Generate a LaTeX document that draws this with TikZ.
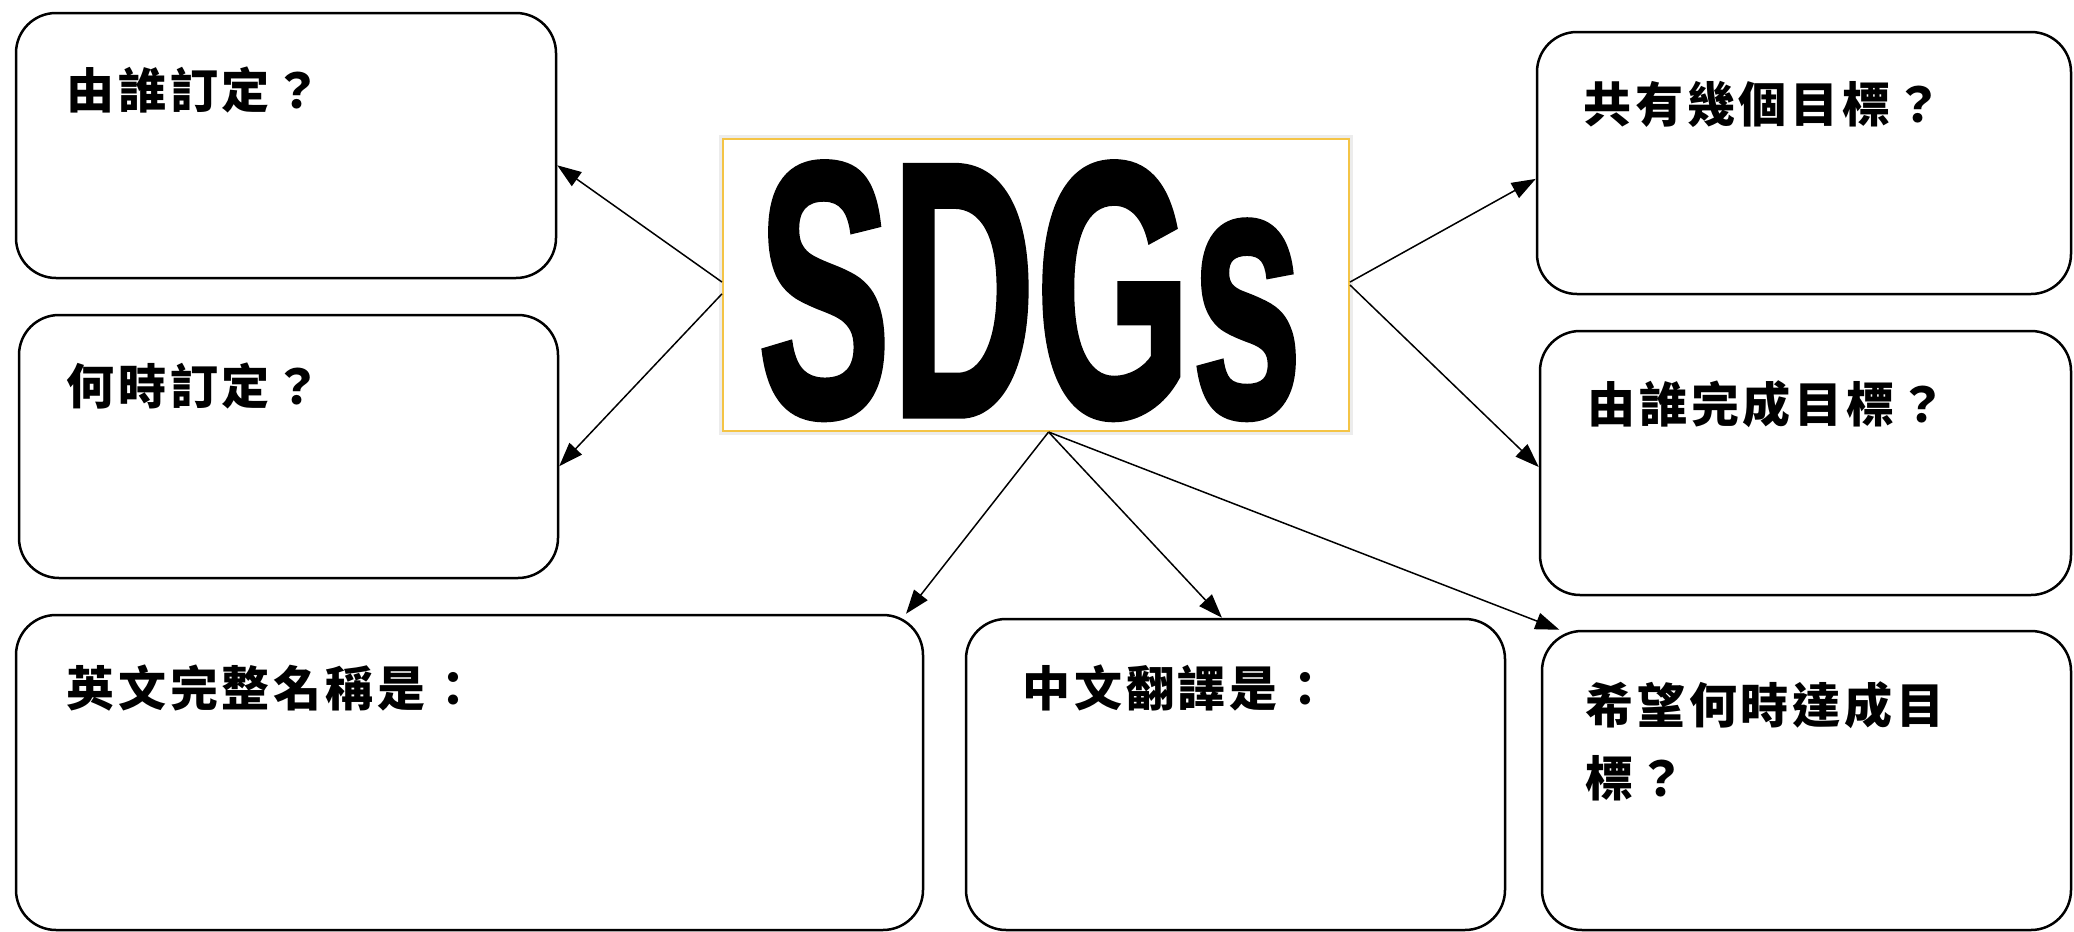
\documentclass[tikz,border=0pt]{standalone}
\usepackage{fontspec}
\usepackage{graphicx}
\usetikzlibrary{arrows.meta,calc}
\newfontfamily\cjk{Noto Sans CJK TC}[LetterSpace=8]
\newfontfamily\sdgfont{Liberation Sans}[FakeBold=1.5]
\definecolor{gold}{RGB}{244,196,70}
\tikzset{
  qbox/.style={draw=black, line width=1.25pt, rounded corners=20pt, fill=white, inner sep=0pt},
  qtext/.style={font=\cjk\bfseries\fontsize{24}{36.5}\selectfont, inner sep=0pt, anchor=west},
  conn/.style={line width=0.75pt, -{Triangle[length=12pt,width=8.5pt]}},
  sdgbox/.style={draw=gold, line width=1pt, fill=white, inner sep=0pt},
  sdgletters/.style={font=\sdgfont\bfseries\fontsize{182}{182}\selectfont, inner sep=0pt, anchor=base}
}
\begin{document}
\begin{tikzpicture}[x=0.5pt,y=-0.5pt]
\fill[white] (0,0) rectangle (2074,932);
\useasboundingbox (0,0) rectangle (2074,932);
% question boxes
\node[qbox, minimum width=270pt, minimum height=132.5pt] (b1) at (286,145.5) {};
\node[qbox, minimum width=269.5pt, minimum height=131.5pt] (b2) at (288.5,446.5) {};
\node[qbox, minimum width=267pt, minimum height=131pt] (b3) at (1804,163) {};
\node[qbox, minimum width=265.5pt, minimum height=132pt] (b4) at (1805.5,463) {};
\node[qbox, minimum width=453.5pt, minimum height=157.5pt] (b5) at (469.5,772.5) {};
\node[qbox, minimum width=269.5pt, minimum height=155.5pt] (b6) at (1235.5,774.5) {};
\node[qbox, minimum width=264.5pt, minimum height=149.5pt] (b7) at (1806.5,780.5) {};
% texts
\node[qtext] (q1) at (66,90) {由誰訂定？};
\node[qtext] (q2) at (66,386) {何時訂定？};
\node[qtext] (q3) at (1583,104) {共有幾個目標？};
\node[qtext] (q4) at (1587,404) {由誰完成目標？};
\node[qtext] (q5) at (66,688) {英文完整名稱是：};
\node[qtext] (q6) at (1022,688) {中文翻譯是：};
\node[qtext, anchor=north west, align=left] (q7) at (1585,681) {希望何時達成目\\標？};
% central SDGs box
\draw[gray!15, line width=4pt] (723,139) rectangle (1349,431);
\node[sdgbox, minimum width=313pt, minimum height=146pt] (sdg) at (1036,285) {};
\node[sdgletters] (sdgtext) at (1030,416) {\scalebox{0.55}[1]{SDGs}};
% connectors
\draw[conn] ($(sdg.north west)!0.49!(sdg.south west)$) -- ($(b1.north east)!0.574!(b1.south east)$);
\draw[conn] ($(sdg.north west)!0.53!(sdg.south west)$) -- ($(b2.north east)!0.574!(b2.south east)$);
\draw[conn] ($(sdg.north east)!0.49!(sdg.south east)$) -- ($(b3.north west)!0.56!(b3.south west)$);
\draw[conn] ($(sdg.north east)!0.50!(sdg.south east)$) -- ($(b4.north west)!0.515!(b4.south west)$);
\coordinate (hub) at ($(sdg.south west)!0.52!(sdg.south east)$);
\draw[conn] (hub) -- ($(b5.north west)!0.98!(b5.north east)$);
\draw[conn] (hub) -- ($(b6.north west)!0.475!(b6.north east)$);
\draw[conn] (hub) -- ($(b7.north west)!0.035!(b7.north east)$);
\end{tikzpicture}
\end{document}
